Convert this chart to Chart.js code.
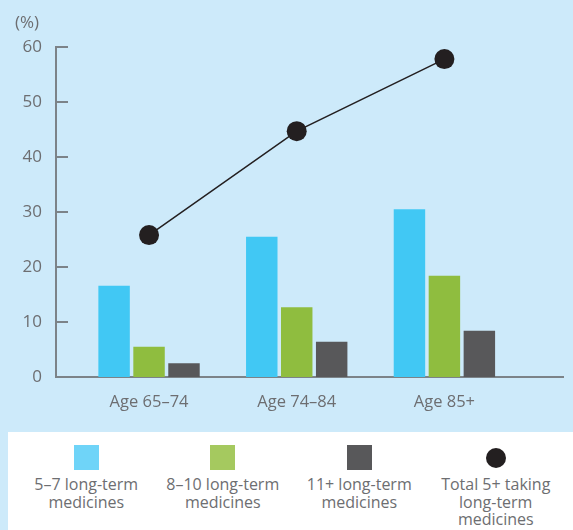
<!DOCTYPE html>
<html>
<head>
<meta charset="utf-8">
<script src="https://cdn.jsdelivr.net/npm/chart.js@4/dist/chart.umd.min.js"></script>
<style>
  html, body { margin: 0; padding: 0; width: 573px; height: 530px; overflow: hidden; background: #cdeafa; font-family: "Open Sans", sans-serif; }
  #wrap { position: relative; width: 573px; height: 530px; }
  #chart { position: absolute; left: 0; top: 0; }
  #legend { position: absolute; left: 8px; top: 432px; width: 565px; height: 98px; background: #ffffff; display: flex; padding-left: 10px; box-sizing: border-box; }
  .item { width: 136.5px; flex: none; text-align: center; color: #6d6e71; font-size: 16px; line-height: 17.5px; white-space: pre-line; }
  .sw { width: 25px; height: 25px; margin: 13px auto 6px; }
  .dot { width: 20px; height: 20px; border-radius: 50%; margin: 15.5px auto 8.5px; }
</style>
</head>
<body>
<div id="wrap">
  <canvas id="chart" width="573" height="530"></canvas>
  <div id="legend"></div>
</div>
<script>
// Share of people by age group taking long-term medicines (%)
const categories = ['Age 65–74', 'Age 74–84', 'Age 85+'];
const meds5to7   = [16.6, 25.5, 30.5];
const meds8to10  = [5.5, 12.7, 18.4];
const meds11plus = [2.5, 6.4, 8.4];
const total5plus = [25.8, 44.7, 57.8];
const yTicks = [0, 10, 20, 30, 40, 50, 60];
const seriesNames = ['5–7 long-term\nmedicines', '8–10 long-term\nmedicines', '11+ long-term\nmedicines', 'Total 5+ taking\nlong-term\nmedicines'];

const barColors = ['#41c8f4', '#8fbd3f', '#58585a'];
const swatchColors = ['#6fd4f8', '#a5c95f', '#58585a', '#231f20'];
const axisColor = '#7c8388';
const textColor = '#6d6e71';

const toPoints = arr => arr.map((v, i) => ({ x: i, y: v }));

// y ticks drawn inward from the axis, plus the unit label above it
const inwardTicks = {
  id: 'inwardTicks',
  afterDraw(chart) {
    const y = chart.scales.y;
    const ctx = chart.ctx;
    ctx.save();
    ctx.strokeStyle = axisColor;
    ctx.lineWidth = 2;
    y.ticks.forEach(t => {
      const py = y.getPixelForValue(t.value);
      ctx.beginPath();
      ctx.moveTo(y.right, py);
      ctx.lineTo(y.right + 12, py);
      ctx.stroke();
    });
    ctx.fillStyle = textColor;
    ctx.font = '17px "Open Sans", sans-serif';
    ctx.textAlign = 'center';
    ctx.textBaseline = 'middle';
    ctx.fillText('(%)', 27, 23);
    ctx.restore();
  }
};

new Chart(document.getElementById('chart'), {
  data: {
    datasets: [
      { type: 'line', label: seriesNames[3], data: toPoints(total5plus), order: 0,
        borderColor: '#231f20', borderWidth: 1.5, backgroundColor: '#231f20',
        pointRadius: 10, pointHoverRadius: 10, pointBackgroundColor: '#231f20', pointBorderWidth: 0 },
      { type: 'bar', label: seriesNames[0], data: toPoints(meds5to7), backgroundColor: barColors[0], order: 1 },
      { type: 'bar', label: seriesNames[1], data: toPoints(meds8to10), backgroundColor: barColors[1], order: 1 },
      { type: 'bar', label: seriesNames[2], data: toPoints(meds11plus), backgroundColor: barColors[2], order: 1 }
    ]
  },
  options: {
    responsive: false,
    animation: false,
    events: [],
    layout: { padding: { top: 47, right: 2, left: 0, bottom: 0 } },
    datasets: { bar: { barPercentage: 0.9, categoryPercentage: 0.71, borderWidth: 0 } },
    plugins: { legend: { display: false }, tooltip: { enabled: false } },
    scales: {
      x: {
        type: 'linear', min: -0.63, max: 2.803, offset: false,
        afterBuildTicks: s => { s.ticks = categories.map((_, i) => ({ value: i })); },
        afterFit: s => { s.height = 153; },
        grid: { display: false, drawTicks: false },
        border: { display: true, color: axisColor, width: 2 },
        ticks: { callback: v => categories[v], color: textColor, font: { size: 16.5, family: '"Open Sans", sans-serif' }, padding: 15, maxRotation: 0 }
      },
      y: {
        min: 0, max: 60,
        afterBuildTicks: s => { s.ticks = yTicks.map(v => ({ value: v })); },
        afterFit: s => { s.width = 56; },
        grid: { display: false, drawTicks: false },
        border: { display: true, color: axisColor, width: 2 },
        ticks: { color: textColor, font: { size: 17, family: '"Open Sans", sans-serif' }, padding: 14 }
      }
    }
  },
  plugins: [inwardTicks]
});

// Legend built from the series names and colours
const legend = document.getElementById('legend');
seriesNames.forEach((name, i) => {
  const item = document.createElement('div');
  item.className = 'item';
  const mark = document.createElement('div');
  mark.className = i === 3 ? 'dot' : 'sw';
  mark.style.background = swatchColors[i];
  const label = document.createElement('div');
  label.textContent = name;
  item.appendChild(mark);
  item.appendChild(label);
  legend.appendChild(item);
});
</script>
</body>
</html>
